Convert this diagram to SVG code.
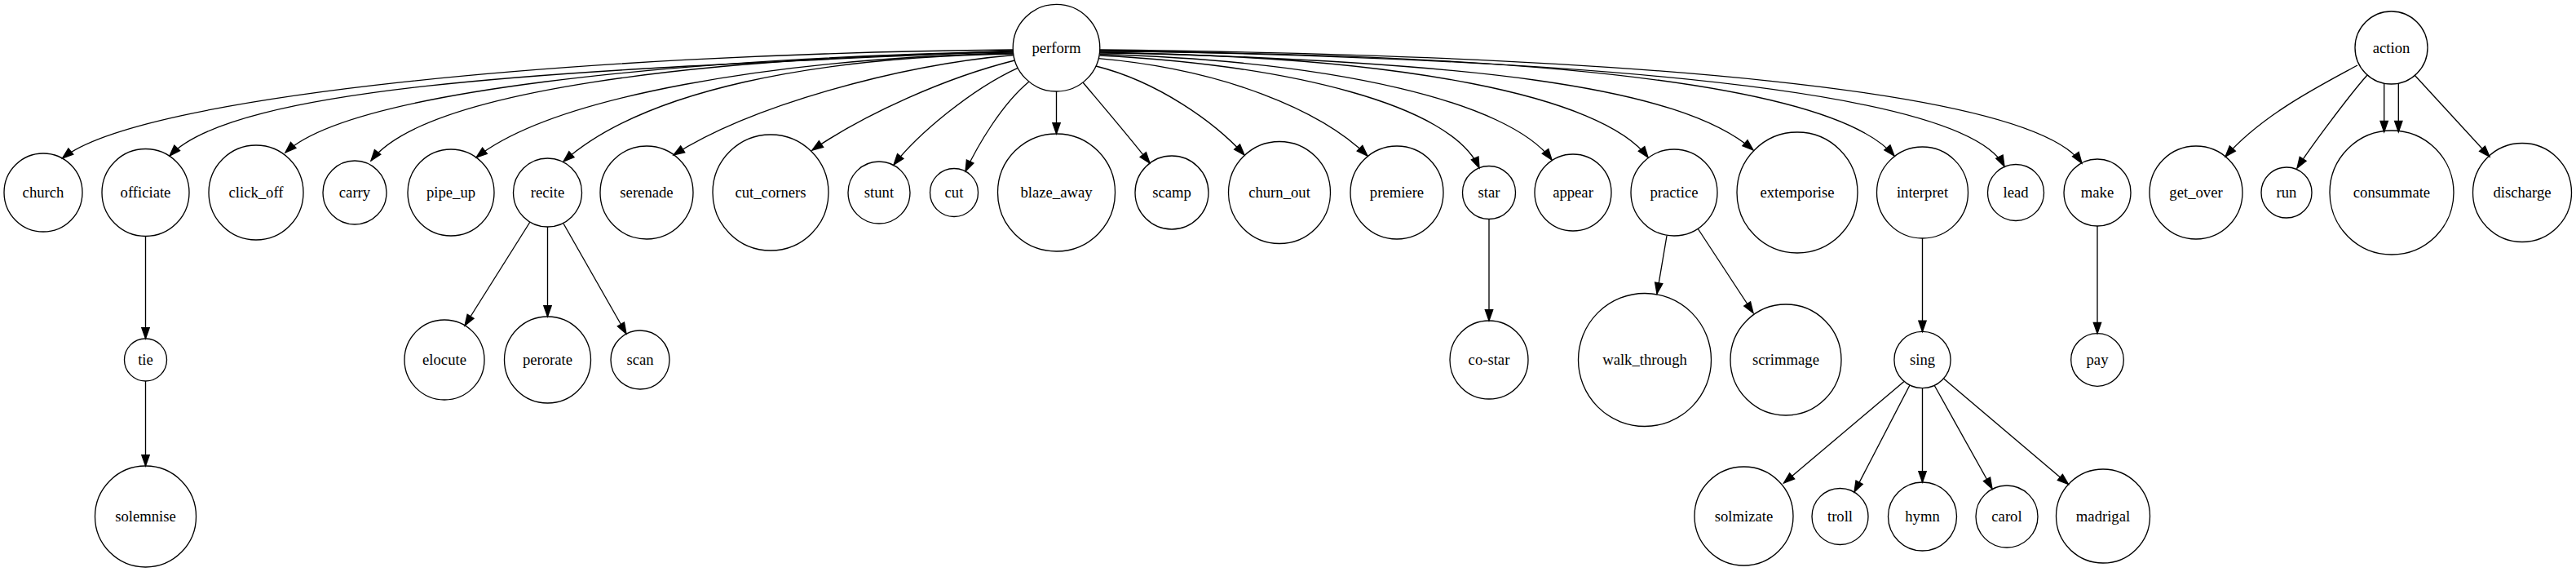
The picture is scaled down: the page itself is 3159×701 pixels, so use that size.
<svg xmlns="http://www.w3.org/2000/svg" width="3159" height="701" viewBox="0 0 3159 701">
<style>
.n circle{fill:none;stroke:#000;stroke-width:1.33}
.n text{font-family:"Liberation Serif","Times New Roman",serif;font-size:18.67px;text-anchor:middle;fill:#000}
#edges path{fill:none;stroke:#000;stroke-width:1.33;marker-end:url(#arr)}
</style>
<defs>
<marker id="arr" markerUnits="userSpaceOnUse" markerWidth="16" markerHeight="12" refX="13.3" refY="4.67" orient="auto" overflow="visible">
<path d="M0,0 L13.3,4.67 L0,9.33 Z" fill="#000" stroke="#000" stroke-width="1.33"/>
</marker>
</defs>
<rect width="3159" height="701" fill="#fff"/>
<g id="edges">
<path d="M1242.3,61 C700,66 170,118 76.5,194"/>
<path d="M1242.3,62 C800,84 300,94 208,191"/>
<path d="M1242.4,63 C820,72 430,112 350,187"/>
<path d="M1242.5,64 C850,70 520,112 455,197"/>
<path d="M1242.6,65 C950,72 680,118 584,193"/>
<path d="M1242.8,66 C1000,70 790,110 691,198"/>
<path d="M1243,67.5 C1100,80 920,130 826,190"/>
<path d="M1244.4,74 C1160,95 1060,140 996,184"/>
<path d="M1248,83.3 C1190,110 1125,165 1096,202"/>
<path d="M1262,100 C1228,128 1198,180 1184,210"/>
<path d="M1295.5,112 L1295.5,164"/>
<path d="M1328,101 C1355,133 1385,168 1410,200"/>
<path d="M1344,81 C1420,100 1490,150 1526,190"/>
<path d="M1347,71.7 C1500,85 1620,135 1677,191"/>
<path d="M1348.5,68 C1580,80 1780,128 1814,206"/>
<path d="M1349,66.5 C1640,75 1850,125 1903,196"/>
<path d="M1349,65 C1720,68 1965,118 2021,193"/>
<path d="M1349,64 C1800,75 2060,105 2150,184"/>
<path d="M1349,63 C1900,66 2250,105 2323,191"/>
<path d="M1349,62 C1950,72 2410,110 2458,204"/>
<path d="M1349,61 C2000,68 2490,110 2553,200"/>
<path d="M2891,80 C2845,105 2775,140 2729,192"/>
<path d="M2903,92 C2880,118 2833,181 2817,206"/>
<path d="M2923.7,102.3 L2923.7,161.7"/>
<path d="M2941.3,102.3 L2941.3,161.7"/>
<path d="M2961.5,92.5 L3053,192"/>
<path d="M178.5,289.5 L178.5,415"/>
<path d="M178.5,467 L178.5,571"/>
<path d="M650,272 L570,399"/>
<path d="M671.5,278 L671.5,388"/>
<path d="M691,274 L768,409"/>
<path d="M1826,268.5 L1826,393"/>
<path d="M2044,289 L2032,360"/>
<path d="M2082,280 L2150,383.5"/>
<path d="M2357.5,292 L2357.5,406.4"/>
<path d="M2572,277 L2572,408.7"/>
<path d="M2335,467.5 L2187.5,592"/>
<path d="M2342,472 L2274,603"/>
<path d="M2357.5,476 L2357.5,591"/>
<path d="M2372,472 L2443,599"/>
<path d="M2383,463.5 L2536.5,593.5"/>
</g>
<g id="n-perform" class="n"><circle cx="1295.5" cy="58.7" r="53.3"/><text x="1295.5" y="64.7">perform</text></g>
<g id="n-action" class="n"><circle cx="2932.5" cy="58.5" r="44.5"/><text x="2932.5" y="64.5">action</text></g>
<g id="n-church" class="n"><circle cx="53" cy="236" r="48"/><text x="53" y="242">church</text></g>
<g id="n-officiate" class="n"><circle cx="178.5" cy="236" r="53.5"/><text x="178.5" y="242">officiate</text></g>
<g id="n-click_off" class="n"><circle cx="314" cy="236" r="58"/><text x="314" y="242">click_off</text></g>
<g id="n-carry" class="n"><circle cx="435" cy="236" r="39"/><text x="435" y="242">carry</text></g>
<g id="n-pipe_up" class="n"><circle cx="553" cy="236" r="53"/><text x="553" y="242">pipe_up</text></g>
<g id="n-recite" class="n"><circle cx="671.5" cy="236" r="42"/><text x="671.5" y="242">recite</text></g>
<g id="n-serenade" class="n"><circle cx="793" cy="236" r="57"/><text x="793" y="242">serenade</text></g>
<g id="n-cut_corners" class="n"><circle cx="945" cy="236" r="71"/><text x="945" y="242">cut_corners</text></g>
<g id="n-stunt" class="n"><circle cx="1078" cy="236" r="38"/><text x="1078" y="242">stunt</text></g>
<g id="n-cut" class="n"><circle cx="1170" cy="236" r="29.5"/><text x="1170" y="242">cut</text></g>
<g id="n-blaze_away" class="n"><circle cx="1295.5" cy="236" r="72"/><text x="1295.5" y="242">blaze_away</text></g>
<g id="n-scamp" class="n"><circle cx="1437" cy="236" r="45"/><text x="1437" y="242">scamp</text></g>
<g id="n-churn_out" class="n"><circle cx="1569" cy="236" r="62.5"/><text x="1569" y="242">churn_out</text></g>
<g id="n-premiere" class="n"><circle cx="1713" cy="236" r="57"/><text x="1713" y="242">premiere</text></g>
<g id="n-star" class="n"><circle cx="1826" cy="236" r="32.5"/><text x="1826" y="242">star</text></g>
<g id="n-appear" class="n"><circle cx="1929" cy="236" r="47"/><text x="1929" y="242">appear</text></g>
<g id="n-practice" class="n"><circle cx="2053" cy="236" r="53"/><text x="2053" y="242">practice</text></g>
<g id="n-extemporise" class="n"><circle cx="2204" cy="236" r="74"/><text x="2204" y="242">extemporise</text></g>
<g id="n-interpret" class="n"><circle cx="2357.5" cy="236" r="56"/><text x="2357.5" y="242">interpret</text></g>
<g id="n-lead" class="n"><circle cx="2472" cy="236" r="34.5"/><text x="2472" y="242">lead</text></g>
<g id="n-make" class="n"><circle cx="2572" cy="236" r="41"/><text x="2572" y="242">make</text></g>
<g id="n-get_over" class="n"><circle cx="2693" cy="236" r="57"/><text x="2693" y="242">get_over</text></g>
<g id="n-run" class="n"><circle cx="2804" cy="236" r="31"/><text x="2804" y="242">run</text></g>
<g id="n-consummate" class="n"><circle cx="2933" cy="236" r="76"/><text x="2933" y="242">consummate</text></g>
<g id="n-discharge" class="n"><circle cx="3093" cy="236" r="60.5"/><text x="3093" y="242">discharge</text></g>
<g id="n-tie" class="n"><circle cx="178.5" cy="441" r="26"/><text x="178.5" y="447">tie</text></g>
<g id="n-elocute" class="n"><circle cx="545" cy="441" r="49"/><text x="545" y="447">elocute</text></g>
<g id="n-perorate" class="n"><circle cx="671.5" cy="441" r="53"/><text x="671.5" y="447">perorate</text></g>
<g id="n-scan" class="n"><circle cx="785" cy="441" r="36"/><text x="785" y="447">scan</text></g>
<g id="n-co-star" class="n"><circle cx="1826" cy="441" r="48"/><text x="1826" y="447">co-star</text></g>
<g id="n-walk_through" class="n"><circle cx="2017" cy="441" r="81.5"/><text x="2017" y="447">walk_through</text></g>
<g id="n-scrimmage" class="n"><circle cx="2190" cy="441" r="68"/><text x="2190" y="447">scrimmage</text></g>
<g id="n-sing" class="n"><circle cx="2357.5" cy="441" r="34.6"/><text x="2357.5" y="447">sing</text></g>
<g id="n-pay" class="n"><circle cx="2572" cy="441" r="32.3"/><text x="2572" y="447">pay</text></g>
<g id="n-solemnise" class="n"><circle cx="178.5" cy="633" r="62"/><text x="178.5" y="639">solemnise</text></g>
<g id="n-solmizate" class="n"><circle cx="2138.5" cy="632.5" r="60.5"/><text x="2138.5" y="638.5">solmizate</text></g>
<g id="n-troll" class="n"><circle cx="2256.5" cy="633" r="34.5"/><text x="2256.5" y="639">troll</text></g>
<g id="n-hymn" class="n"><circle cx="2357.5" cy="633" r="42"/><text x="2357.5" y="639">hymn</text></g>
<g id="n-carol" class="n"><circle cx="2461" cy="633" r="38"/><text x="2461" y="639">carol</text></g>
<g id="n-madrigal" class="n"><circle cx="2579" cy="632.5" r="57.5"/><text x="2579" y="638.5">madrigal</text></g>
</svg>
